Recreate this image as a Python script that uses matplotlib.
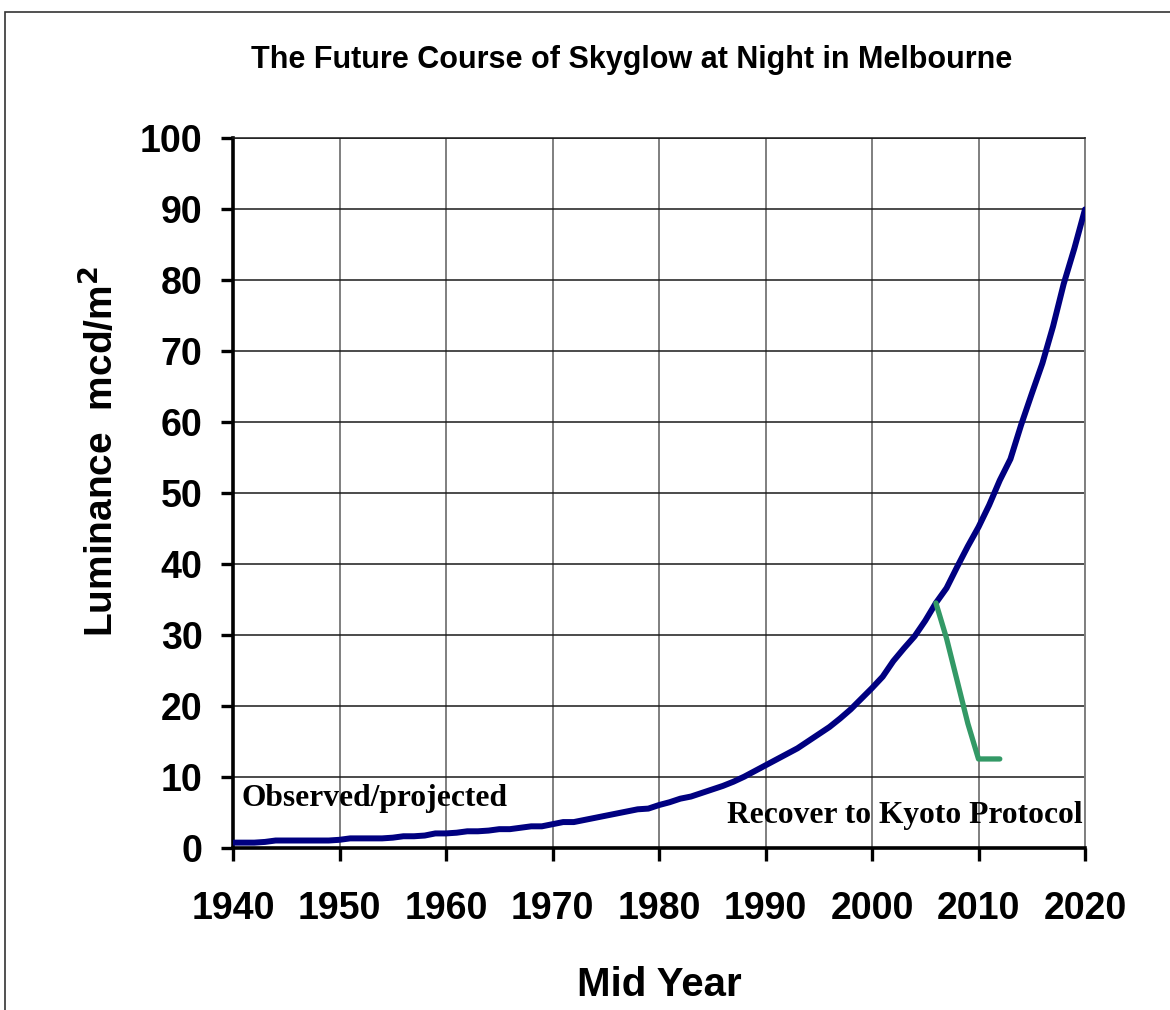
import numpy as np
import matplotlib.pyplot as plt
from matplotlib.patches import Rectangle

# Datos ########################################################################
years = list(range(1940, 2021))
luminance = [
    0.7, 0.7, 0.7, 0.8, 1.0, 1.0, 1.0, 1.0, 1.0, 1.0,      # 1940-1949
    1.1, 1.3, 1.3, 1.3, 1.3, 1.4, 1.6, 1.6, 1.7, 2.0,      # 1950-1959
    2.0, 2.1, 2.3, 2.3, 2.4, 2.6, 2.6, 2.8, 3.0, 3.0,      # 1960-1969
    3.3, 3.6, 3.6, 3.9, 4.2, 4.5, 4.8, 5.1, 5.4, 5.5,      # 1970-1979
    6.0, 6.4, 6.9, 7.2, 7.7, 8.2, 8.7, 9.3, 10.0, 10.8,    # 1980-1989
    11.6, 12.4, 13.2, 14.0, 15.0, 16.0, 17.0, 18.2, 19.5, 21.0,  # 1990-1999
    22.5, 24.1, 26.3, 28.1, 29.8, 32.0, 34.5, 36.6, 39.6, 42.5,  # 2000-2009
    45.2, 48.3, 51.8, 54.8, 59.6, 64.0, 68.3, 73.5, 79.5, 84.5,  # 2010-2019
    90.0,                                                   # 2020
]

kyoto_years = [2006, 2007, 2008, 2009, 2010, 2011, 2012]
kyoto_lum   = [34.5, 29.5, 23.5, 17.5, 12.5, 12.5, 12.5]

xticks = list(range(1940, 2021, 10))
yticks = list(range(0, 101, 10))

# Gráfico ######################################################################
fig = plt.figure(figsize=(11.7, 10.1), dpi=100)
ax = fig.add_axes([233/1170, 1 - 847.6/1010, (1085 - 233)/1170, (847.6 - 138.5)/1010])

ax.plot(years, luminance, '-', color='#000080', lw=4.3, solid_capstyle='round', zorder=3)
ax.plot(kyoto_years, kyoto_lum, '-', color='#339966', lw=3.8, solid_capstyle='round', zorder=4)

ax.set_xlim(1940, 2020)
ax.set_ylim(0, 100)
ax.set_xticks(xticks)
ax.set_yticks(yticks)

# grilla: horizontales oscuras, verticales grises
ax.yaxis.grid(True, color='#1a1a1a', lw=1.1)
ax.xaxis.grid(True, color='#7f7f7f', lw=1.4)
ax.set_axisbelow(True)

for s in ['left', 'bottom']:
    ax.spines[s].set_linewidth(2.6)
ax.spines['top'].set_color('#1a1a1a')
ax.spines['top'].set_linewidth(1.1)
ax.spines['right'].set_color('#7f7f7f')
ax.spines['right'].set_linewidth(1.4)

ax.tick_params(axis='both', direction='out', length=9, width=2.4, labelsize=27)
ax.tick_params(axis='y', pad=13)
ax.tick_params(axis='x', pad=22)
for lab in ax.get_xticklabels() + ax.get_yticklabels():
    lab.set_fontweight('bold')
    lab.set_family('Liberation Sans')

ax.set_xlabel('Mid Year', fontsize=29, fontweight='bold', family='Liberation Sans', labelpad=28)
ax.set_ylabel('Luminance  mcd/m$^\\mathbf{2}$', fontsize=28, fontweight='bold',
              family='Liberation Sans')
ax.yaxis.set_label_coords(-0.131, 0.559)

fig.text(632/1170, 1 - 60/1010, 'The Future Course of Skyglow at Night in Melbourne',
         ha='center', va='center', fontsize=22, fontweight='bold', family='Liberation Sans')

ax.text(1940.8, 5.8, 'Observed/projected', fontsize=22.7, fontweight='bold',
        family='Liberation Serif', ha='left', va='baseline')
ax.text(2019.8, 3.4, 'Recover to Kyoto Protocol', fontsize=22.7, fontweight='bold',
        family='Liberation Serif', ha='right', va='baseline')

# marco de la figura
fig.patches.append(Rectangle((5/1170, -0.1), 1.2, 0.1 + 1 - 12/1010, transform=fig.transFigure,
                             fill=False, ec='#333333', lw=1.2))

fig.savefig('out.png', dpi=100)
